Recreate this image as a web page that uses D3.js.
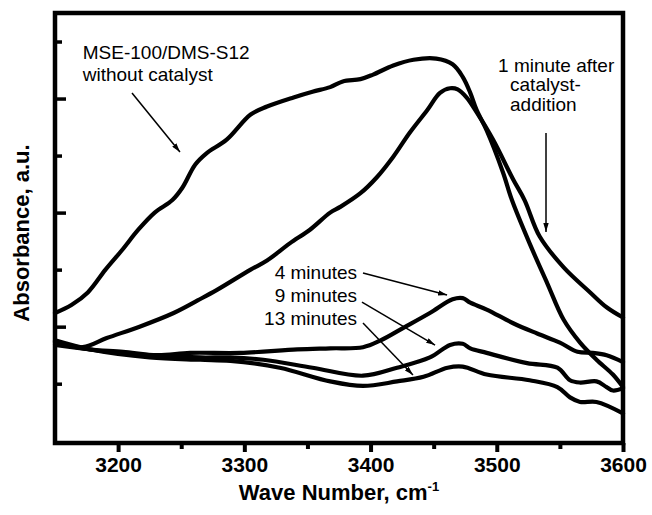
<!DOCTYPE html>
<html>
  <head>
    <meta charset="utf-8" />
    <style>
      body { margin: 0; background: #fff; }
      text { font-family: "Liberation Sans", Arial, Helvetica, sans-serif; fill: #000; }
      .tick text { font-size: 21px; font-weight: bold; }
      .ann { font-size: 19px; }
      .title { font-size: 22px; font-weight: bold; }
      .curve { fill: none; stroke: #000; stroke-width: 4.2px; stroke-linejoin: round; stroke-linecap: round; }
      .arrow { stroke: #000; stroke-width: 1.5px; }
    </style>
  </head>
  <body>
    <svg width="652" height="515"></svg>
    <script src="https://d3js.org/d3.v7.min.js"></script>
    <script>
      // wave number (cm-1), absorbance (a.u.)
      var withoutCatalyst = [
        [3150, 1.12], [3163, 1.19], [3176, 1.30], [3190, 1.50], [3203, 1.67],
        [3216, 1.85], [3229, 2.00], [3243, 2.11], [3251, 2.22], [3261, 2.42],
        [3270, 2.52], [3286, 2.64], [3305, 2.86], [3318, 2.93], [3339, 3.01],
        [3354, 3.06], [3368, 3.10], [3378, 3.15], [3392, 3.17], [3402, 3.21],
        [3418, 3.29], [3434, 3.34], [3452, 3.35], [3465, 3.30], [3473, 3.19],
        [3479, 3.05], [3484, 2.90], [3492, 2.72], [3505, 2.35], [3512, 2.11],
        [3526, 1.73], [3540, 1.38], [3553, 1.06], [3566, 0.86], [3579, 0.71],
        [3592, 0.58], [3600, 0.47]
      ];
      var oneMinute = [
        [3150, 0.87], [3172, 0.82], [3191, 0.90], [3217, 1.00], [3244, 1.12],
        [3263, 1.23], [3278, 1.32], [3305, 1.50], [3318, 1.58], [3336, 1.73],
        [3352, 1.85], [3368, 2.00], [3376, 2.05], [3392, 2.17], [3405, 2.31],
        [3418, 2.49], [3431, 2.70], [3445, 2.90], [3455, 3.05], [3463, 3.09],
        [3469, 3.08], [3476, 3.01], [3484, 2.88], [3497, 2.64], [3513, 2.29],
        [3522, 2.11], [3534, 1.79], [3553, 1.52], [3574, 1.30], [3587, 1.17],
        [3600, 1.08]
      ];
      var fourMinutes = [
        [3150, 0.84], [3178, 0.80], [3204, 0.78], [3231, 0.75], [3257, 0.77],
        [3297, 0.77], [3342, 0.80], [3368, 0.81], [3394, 0.82], [3408, 0.88],
        [3426, 0.99], [3447, 1.12], [3465, 1.24], [3473, 1.25], [3479, 1.21],
        [3492, 1.15], [3513, 1.03], [3532, 0.94], [3550, 0.86], [3564, 0.78],
        [3576, 0.77], [3587, 0.75], [3600, 0.69]
      ];
      var nineMinutes = [
        [3150, 0.86], [3178, 0.80], [3225, 0.75], [3265, 0.73], [3289, 0.73],
        [3315, 0.71], [3354, 0.64], [3394, 0.57], [3421, 0.64], [3447, 0.73],
        [3463, 0.84], [3473, 0.85], [3479, 0.81], [3492, 0.77], [3524, 0.68],
        [3548, 0.64], [3558, 0.53], [3566, 0.51], [3579, 0.52], [3587, 0.47],
        [3592, 0.44], [3600, 0.46]
      ];
      var thirteenMinutes = [
        [3150, 0.88], [3178, 0.80], [3225, 0.73], [3265, 0.71], [3289, 0.70],
        [3328, 0.64], [3368, 0.52], [3394, 0.48], [3421, 0.52], [3442, 0.56],
        [3461, 0.64], [3473, 0.65], [3492, 0.58], [3526, 0.53], [3548, 0.47],
        [3558, 0.38], [3566, 0.34], [3579, 0.34], [3600, 0.24]
      ];
      var majorX = [3200, 3300, 3400, 3500, 3600];
      var minorX = [3250, 3350, 3450, 3550];
      var majorY = [1, 2, 3];
      var minorY = [0.5, 1.5, 2.5, 3.5];

      // labels: [wave, absorbance] anchor of the first line
      var labels = [
        { lines: ["MSE-100/DMS-S12", "without catalyst"], at: [3172, 3.346], anchor: "start", indent: [0, 0], lead: 21.5 },
        { lines: ["1 minute after", "catalyst-", "addition"], at: [3501, 3.233], anchor: "start", indent: [0, 12, 12], lead: 19.5 },
        { lines: ["4 minutes"], at: [3389.3, 1.418], anchor: "end", indent: [0], lead: 0 },
        { lines: ["9 minutes"], at: [3389.3, 1.216], anchor: "end", indent: [0], lead: 0 },
        { lines: ["13 minutes"], at: [3389.3, 1.014], anchor: "end", indent: [0], lead: 0 }
      ];
      var arrows = [
        [[3211.0, 3.048], [3249.0, 2.531]],
        [[3539.0, 2.698], [3539.0, 1.830]],
        [[3394.0, 1.470], [3460.6, 1.277]],
        [[3393.2, 1.216], [3451.1, 0.839]],
        [[3394.0, 1.032], [3433.6, 0.576]]
      ];

      var svg = d3.select("svg");
      var plot = { left: 55, right: 623, top: 13, bottom: 443 };

      var x = d3.scaleLinear().domain([3150, 3600]).range([plot.left, plot.right]);
      var y = d3.scaleLinear().domain([-0.02, 3.75]).range([plot.bottom, plot.top]);

      var line = d3
        .line()
        .x(function (d) { return x(d[0]); })
        .y(function (d) { return y(d[1]); })
        .curve(d3.curveCatmullRom.alpha(0.5));

      svg
        .append("g")
        .selectAll("path")
        .data([withoutCatalyst, oneMinute, fourMinutes, nineMinutes, thirteenMinutes])
        .enter()
        .append("path")
        .attr("class", "curve")
        .attr("d", line);

      // x axis ticks (outward) with labels
      var gx = svg
        .append("g")
        .attr("transform", "translate(0," + plot.bottom + ")")
        .call(d3.axisBottom(x).tickValues(majorX).tickSize(9).tickPadding(5).tickFormat(d3.format("d")));
      gx.selectAll(".tick line").attr("stroke-width", 4);
      gx.select(".domain").remove();

      var gx2 = svg
        .append("g")
        .attr("transform", "translate(0," + plot.bottom + ")")
        .call(d3.axisBottom(x).tickValues(minorX).tickSize(6).tickFormat(""));
      gx2.selectAll(".tick line").attr("stroke-width", 4);
      gx2.select(".domain").remove();

      // y axis ticks (inward), no labels
      var gy = svg
        .append("g")
        .attr("transform", "translate(" + plot.left + ",0)")
        .call(d3.axisLeft(y).tickValues(majorY).tickSize(-11).tickFormat(""));
      gy.selectAll(".tick line").attr("stroke-width", 3.5);
      gy.select(".domain").remove();

      var gy2 = svg
        .append("g")
        .attr("transform", "translate(" + plot.left + ",0)")
        .call(d3.axisLeft(y).tickValues(minorY).tickSize(-7).tickFormat(""));
      gy2.selectAll(".tick line").attr("stroke-width", 3.5);
      gy2.select(".domain").remove();

      // frame
      svg
        .append("rect")
        .attr("x", plot.left)
        .attr("y", plot.top)
        .attr("width", plot.right - plot.left)
        .attr("height", plot.bottom - plot.top)
        .attr("fill", "none")
        .attr("stroke", "#000")
        .attr("stroke-width", 4.5);

      // arrows
      svg
        .append("defs")
        .append("marker")
        .attr("id", "head")
        .attr("viewBox", "0 0 10 6")
        .attr("refX", 10)
        .attr("refY", 3)
        .attr("markerWidth", 6)
        .attr("markerHeight", 3.6)
        .attr("markerUnits", "strokeWidth")
        .attr("orient", "auto")
        .append("path")
        .attr("d", "M0,0L10,3L0,6Z")
        .attr("fill", "#000");

      svg
        .append("g")
        .selectAll("line")
        .data(arrows)
        .enter()
        .append("line")
        .attr("class", "arrow")
        .attr("x1", function (d) { return x(d[0][0]); })
        .attr("y1", function (d) { return y(d[0][1]); })
        .attr("x2", function (d) { return x(d[1][0]); })
        .attr("y2", function (d) { return y(d[1][1]); })
        .attr("marker-end", "url(#head)");

      // annotation text
      var ann = svg
        .append("g")
        .selectAll("text")
        .data(labels)
        .enter()
        .append("text")
        .attr("class", "ann")
        .attr("text-anchor", function (d) { return d.anchor; });

      ann
        .selectAll("tspan")
        .data(function (d) {
          return d.lines.map(function (t, i) {
            return { t: t, x: x(d.at[0]) + d.indent[i], y: y(d.at[1]) + i * d.lead };
          });
        })
        .enter()
        .append("tspan")
        .attr("x", function (d) { return d.x; })
        .attr("y", function (d) { return d.y; })
        .text(function (d) { return d.t; });

      // axis titles
      var xt = svg
        .append("text")
        .attr("class", "title")
        .attr("text-anchor", "middle")
        .attr("x", (plot.left + plot.right) / 2)
        .attr("y", 500);
      xt.append("tspan").text("Wave Number, cm");
      xt.append("tspan").attr("dy", -9).attr("font-size", 13).text("-1");

      svg
        .append("text")
        .attr("class", "title")
        .attr("text-anchor", "middle")
        .attr("transform", "translate(29," + 233 + ") rotate(-90)")
        .text("Absorbance, a.u.");
    </script>
  </body>
</html>
